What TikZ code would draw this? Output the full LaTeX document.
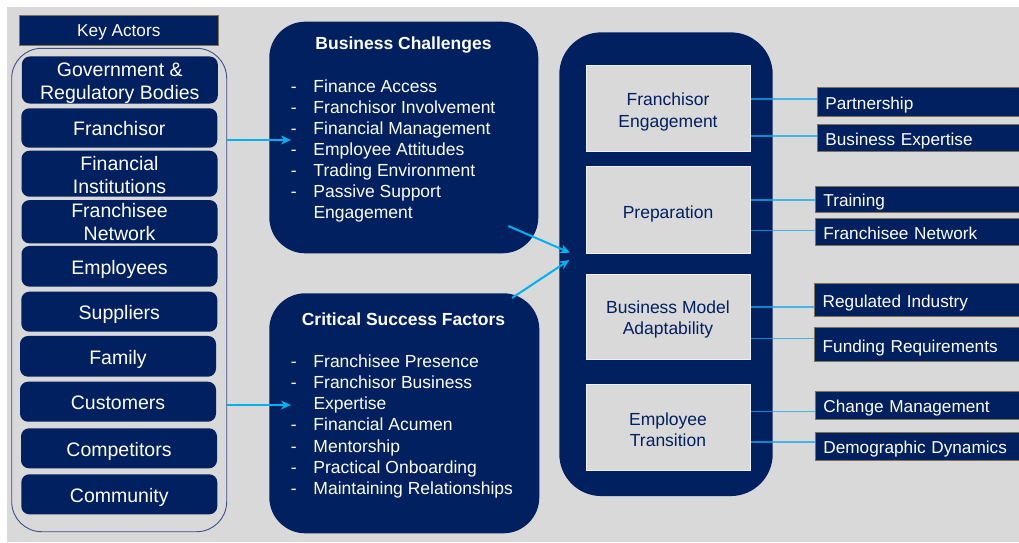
\documentclass[tikz,border=0pt]{standalone}
\usepackage{fontspec}
\setmainfont{Liberation Sans}
\usetikzlibrary{arrows.meta}
\definecolor{navy}{RGB}{0,32,96}
\definecolor{bg}{RGB}{217,217,217}
\definecolor{sky}{RGB}{0,176,240}
\definecolor{connc}{RGB}{20,170,235}
\definecolor{gold}{RGB}{125,115,80}
\definecolor{framec}{RGB}{60,80,140}
\begin{document}
\begin{tikzpicture}[x=1pt,y=-1pt,
  actor/.style={fill=navy, text=white, rounded corners=8pt, minimum width=196pt,
    font=\fontsize{19.5}{23}\selectfont, align=center, inner sep=0pt},
  one/.style={text height=15.6pt, text depth=0pt},
  bigbox/.style={fill=navy, text=white},
  graybox/.style={fill=bg, draw=white!60!bg, line width=1pt, text=navy, minimum width=164pt,
    font=\fontsize{17.5}{21.5}\selectfont, align=center, inner sep=0pt},
  rbox/.style={fill=navy, draw=gold, line width=0.8pt, anchor=west, text width=204pt,
    inner xsep=8pt, inner ysep=0pt, align=left, text=white,
    font=\fontsize{17.2}{20}\selectfont, text height=15.4pt, text depth=0pt},
  listtxt/.style={anchor=north west, align=left, text=white, inner sep=0pt},
  ttl/.style={text=white, font=\bfseries\fontsize{17.5}{21}\selectfont, inner sep=0pt,
    text height=12.7pt, text depth=0pt},
  link/.style={draw=connc, draw opacity=0.75, line width=1.2pt},
  arr/.style={draw=sky, line width=2pt, -{Stealth[length=10pt,width=9pt]}}
]
\useasboundingbox (0,0) rectangle (1019,542);
\clip (0,0) rectangle (1019,542);
\fill[white] (0,0) rectangle (1019,542);
\fill[bg] (7,7) rectangle (1019,542);

% Key actors
\node[fill=navy, draw=gold, line width=0.8pt, text=white, minimum width=199pt, minimum height=29.3pt,
  inner sep=0pt, font=\fontsize{17.2}{20}\selectfont, text height=12.4pt, text depth=0pt]
  (ka) at (118.8,30.35) {Key Actors};
\node[draw=framec, line width=0.9pt, rounded corners=30pt, minimum width=215pt, minimum height=483.4pt,
  inner sep=0pt] (kc) at (119.2,290) {};

\node[actor, minimum height=45.4pt] (gov) at (119.8,80) {\rule{0pt}{20pt}Government \&\\Regulatory Bodies};
\node[actor, one, minimum height=39.4pt] (fr) at (119.3,128) {Franchisor};
\node[actor, minimum height=46pt] (fi) at (119.5,173.7) {\rule{0pt}{17.5pt}Financial\\Institutions};
\node[actor, minimum height=43.3pt] (fn) at (119.5,221.7) {\rule{0pt}{15.5pt}Franchisee\\Network};
\node[actor, one, minimum height=40.7pt] (em) at (119.5,266.3) {Employees};
\node[actor, one, minimum height=40pt] (su) at (119.3,311.7) {Suppliers};
\node[actor, one, minimum height=40.7pt] (fa) at (118,356.3) {Family};
\node[actor, one, minimum height=40pt] (cu) at (118,401.7) {Customers};
\node[actor, one, minimum height=40pt] (co) at (119,448.3) {Competitors};
\node[actor, one, minimum height=40pt] (cm) at (119.3,494.3) {Community};

% Business challenges
\node[bigbox, rounded corners=36pt, minimum width=269pt, minimum height=231.6pt, inner sep=0pt]
  (bc) at (403.8,137.5) {};
\node[ttl] (bct) at (403.5,43.3) {Business Challenges};
\node[listtxt, font=\fontsize{17.5}{20.95}\selectfont] (bcl) at (290.7,79.8) {%
\makebox[22.6pt][l]{-}Finance Access\\
\makebox[22.6pt][l]{-}Franchisor Involvement\\
\makebox[22.6pt][l]{-}Financial Management\\
\makebox[22.6pt][l]{-}Employee Attitudes\\
\makebox[22.6pt][l]{-}Trading Environment\\
\makebox[22.6pt][l]{-}Passive Support\\
\hspace*{22.6pt}Engagement};

% Critical success factors
\node[bigbox, rounded corners=36pt, minimum width=270pt, minimum height=240pt, inner sep=0pt]
  (csf) at (404.3,413.3) {};
\node[ttl] (csft) at (403.5,319.3) {Critical Success Factors};
\node[listtxt, font=\fontsize{17.5}{21.2}\selectfont] (csfl) at (290.7,354.5) {%
\makebox[22.6pt][l]{-}Franchisee Presence\\
\makebox[22.6pt][l]{-}Franchisor Business\\
\hspace*{22.6pt}Expertise\\
\makebox[22.6pt][l]{-}Financial Acumen\\
\makebox[22.6pt][l]{-}Mentorship\\
\makebox[22.6pt][l]{-}Practical Onboarding\\
\makebox[22.6pt][l]{-}Maintaining Relationships};

% Middle container
\node[bigbox, rounded corners=42pt, minimum width=213.4pt, minimum height=463.7pt, inner sep=0pt]
  (mid) at (666,264.2) {};
\node[graybox, minimum height=86pt] (g1) at (668,108.7) {\rule{0pt}{19pt}Franchisor\\Engagement};
\node[graybox, minimum height=86.6pt, text height=16pt, text depth=0pt] (g2) at (668,210) {Preparation};
\node[graybox, minimum height=85.3pt] (g3) at (668,316.7) {\rule{0pt}{18.5pt}Business Model\\Adaptability};
\node[graybox, minimum height=85.7pt] (g4) at (668,427.8) {\rule{0pt}{17pt}Employee\\Transition};

% Right boxes
\node[rbox, minimum height=28.3pt] (pt) at (817,101.8) {Partnership};
\node[rbox, minimum height=27.7pt] (be) at (817,137.8) {Business Expertise};
\node[rbox, minimum height=26.3pt] (tr) at (815,199.2) {Training};
\node[rbox, minimum height=26.7pt] (fnw) at (815,231.7) {Franchisee Network};
\node[rbox, minimum height=32.7pt] (ri) at (814.3,299.7) {Regulated Industry};
\node[rbox, minimum height=33.3pt] (frq) at (814.3,344.3) {Funding Requirements};
\node[rbox, minimum height=28.3pt] (cmg) at (815,405.2) {Change Management};
\node[rbox, minimum height=27.7pt] (dd) at (815,446.2) {Demographic Dynamics};

% connectors
\draw[link] (g1.east |- 0,99) -- (pt.west |- 0,99);
\draw[link] (g1.east |- 0,136) -- (be.west |- 0,136);
\draw[link] (g2.east |- 0,200) -- (tr.west |- 0,200);
\draw[link] (g2.east |- 0,230.7) -- (fnw.west |- 0,230.7);
\draw[link] (g3.east |- 0,307) -- (ri.west |- 0,307);
\draw[link] (g3.east |- 0,338.7) -- (frq.west |- 0,338.7);
\draw[link] (g4.east |- 0,411.7) -- (cmg.west |- 0,411.7);
\draw[link] (g4.east |- 0,442) -- (dd.west |- 0,442);

% arrows
\coordinate (t1) at (291,140);
\coordinate (t2) at (291,405);
\coordinate (s3) at (508.3,226);
\coordinate (t3) at (570,252.7);
\coordinate (s4) at (512,298);
\coordinate (t4) at (569.3,260);
\draw[arr] (kc.east |- t1) -- (t1);
\draw[arr] (kc.east |- t2) -- (t2);
\draw[arr] (s3) -- (t3);
\draw[arr] (s4) -- (t4);
\end{tikzpicture}
\end{document}
